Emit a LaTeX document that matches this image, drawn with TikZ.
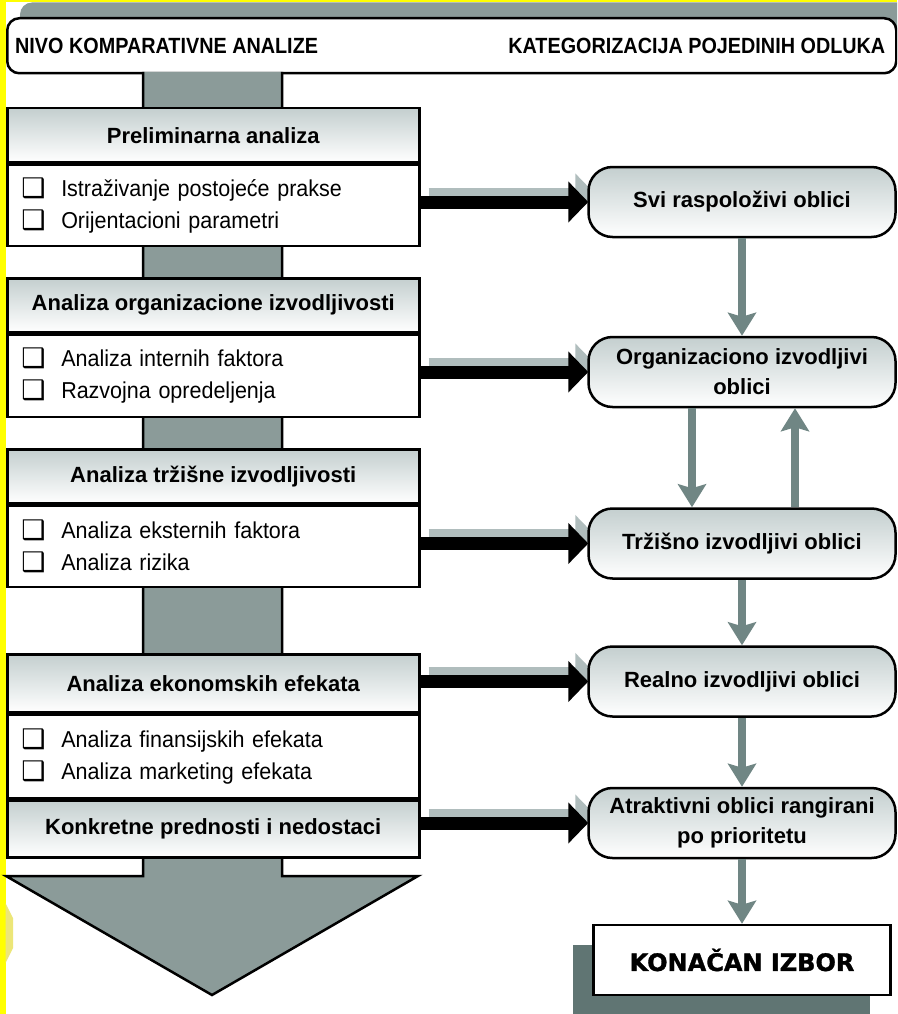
\documentclass[tikz,border=0pt]{standalone}
\usepackage{fontspec}
\setmainfont{Liberation Sans}
\newfontfamily\narrowsans{Liberation Sans}[FakeStretch=0.935]
\newfontfamily\titlesans{Liberation Sans}[FakeStretch=0.9]
\newfontfamily\symfont{DejaVu Sans}
\newfontfamily\widesans{DejaVu Sans}[BoldFeatures={FakeBold=1.4}]
\usetikzlibrary{arrows.meta}

\pgfdeclarelayer{bg}
\pgfdeclarelayer{links}
\pgfsetlayers{bg,links,main}

\definecolor{trunkgray}{RGB}{139,155,153}
\definecolor{arrowgray}{RGB}{112,134,132}
\definecolor{shadowgray}{RGB}{176,189,189}
\definecolor{darkshadow}{RGB}{96,117,115}
\definecolor{shadetop}{RGB}{196,207,207}
\definecolor{marker}{RGB}{255,255,0}
\definecolor{palemarker}{RGB}{236,230,120}

% checkbox bullet followed by its item text
\newcommand{\chkitem}[1]{\makebox[40pt][l]{\raisebox{-1pt}{\symfont\fontsize{27}{27}\selectfont ❑}}#1}

\tikzset{
  outline/.style={draw=black, line width=2.5pt},
  stagehead/.style={outline, anchor=north west, minimum width=412pt,
    top color=shadetop, bottom color=white, inner sep=0pt,
    font=\fontsize{22}{26}\selectfont\bfseries},
  stagebody/.style={outline, anchor=north west, fill=white,
    text width=384pt, inner xsep=14pt, inner ysep=0pt, align=left,
    font=\narrowsans\fontsize{23}{32}\selectfont},
  pill/.style={outline, rounded corners=24pt, minimum width=307pt,
    minimum height=70pt, top color=shadetop, bottom color=white,
    align=center, inner sep=0pt, font=\fontsize{22}{30}\selectfont\bfseries},
  titletext/.style={font=\titlesans\fontsize{22}{26}\selectfont\bfseries, inner sep=0pt},
  hconn/.style={draw=black, line width=13pt, -{Triangle[length=20pt,width=40pt]}},
  hshadow/.style={draw=shadowgray, line width=13pt, -{Triangle[length=20pt,width=40pt]},
    transform canvas={xshift=8pt,yshift=8pt}},
  vconn/.style={draw=arrowgray, line width=8pt, -{Stealth[length=23pt,width=28pt,inset=4pt]}}
}

\begin{document}
\begin{tikzpicture}[x=1pt, y=-1pt]
\useasboundingbox (0,0) rectangle (897,1014);
\clip (0,0) rectangle (897,1014);

\begin{pgfonlayer}{bg}
\fill[white] (0,0) rectangle (897,1014);
% marker edges
\fill[marker] (0,0) rectangle (897,2.5);
\fill[marker] (0,0) rectangle (5.5,1014);
\fill[palemarker] (5.5,903) -- (13,918) -- (13,948) -- (5.5,963) -- cycle;
\end{pgfonlayer}

% title band
\fill[trunkgray, rounded corners=12pt] (20,60) -- (20,2.5) -- (920,2.5) -- (920,60) -- cycle;
\node[outline, rounded corners=12pt, fill=white, minimum width=889pt,
  minimum height=55pt, anchor=north west] (title) at (6,17) {};
\node[titletext, anchor=west] (lefttitle) at ([xshift=9pt]title.west) {NIVO KOMPARATIVNE ANALIZE};
\node[titletext, anchor=east] (righttitle) at ([xshift=-12pt]title.east) {KATEGORIZACIJA POJEDINIH ODLUKA};

% central trunk ending in a broad arrow
\filldraw[fill=trunkgray, line width=2.5pt]
  (143,72) -- (143,876) -- (6,876) -- (212,995) -- (418,876) -- (282,876) -- (282,72);

% stages of the analysis
\node[stagehead, minimum height=54pt] (h1) at (6,107) {Preliminarna analiza};
\node[stagebody, minimum height=81pt] (b1) at (h1.south west)
  {\chkitem{Istraživanje postojeće prakse}\\\chkitem{Orijentacioni parametri}};

\node[stagehead, minimum height=54pt] (h2) at (6,277) {Analiza organizacione izvodljivosti};
\node[stagebody, minimum height=82pt] (b2) at (h2.south west)
  {\chkitem{Analiza internih faktora}\\\chkitem{Razvojna opredeljenja}};

\node[stagehead, minimum height=54pt] (h3) at (6,448) {Analiza tržišne izvodljivosti};
\node[stagebody, minimum height=81pt] (b3) at (h3.south west)
  {\chkitem{Analiza eksternih faktora}\\\chkitem{Analiza rizika}};

\node[stagehead, minimum height=58pt] (h4) at (6,653) {Analiza ekonomskih efekata};
\node[stagebody, minimum height=83pt] (b4) at (h4.south west)
  {\chkitem{Analiza finansijskih efekata}\\\chkitem{Analiza marketing efekata}};
\node[stagehead, minimum height=57pt] (h5) at (b4.south west) {Konkretne prednosti i nedostaci};

% decision categories
\node[pill] (svi) at (742,202) {Svi raspoloživi oblici};
\node[pill] (org) at (742,372) {Organizaciono izvodljivi\\oblici};
\node[pill] (trz) at (742,543.5) {Tržišno izvodljivi oblici};
\node[pill] (real) at (742,681.5) {Realno izvodljivi oblici};
\node[pill] (atr) at (742,823) {Atraktivni oblici rangirani\\po prioritetu};

\fill[darkshadow] (573,945) rectangle (870,1020);
\node[outline, fill=white, minimum width=297pt, minimum height=70pt,
  font=\widesans\bfseries\fontsize{24}{28}\selectfont] (final) at (742,960) {KONAČAN IZBOR};

% links from stages to categories, kept behind the boxes
\begin{pgfonlayer}{links}
\foreach \src/\dst in {b1/svi, b2/org, b3/trz, h4/real, h5/atr}{
  \draw[hshadow] (\src.east |- \dst.west) -- (\dst.west);
}
\foreach \src/\dst in {b1/svi, b2/org, b3/trz, h4/real, h5/atr}{
  \draw[hconn] (\src.east |- \dst.west) -- ([xshift=1pt]\dst.west);
}
\end{pgfonlayer}

% flow between categories
\draw[vconn] (svi.south) -- (org.north);
\draw[vconn] ([xshift=-50pt]org.south) -- ([xshift=-50pt]trz.north);
\draw[vconn] ([xshift=53pt]trz.north) -- ([xshift=53pt]org.south);
\draw[vconn] (trz.south) -- (real.north);
\draw[vconn] (real.south) -- (atr.north);
\draw[vconn] (atr.south) -- (final.north);
\end{tikzpicture}
\end{document}
